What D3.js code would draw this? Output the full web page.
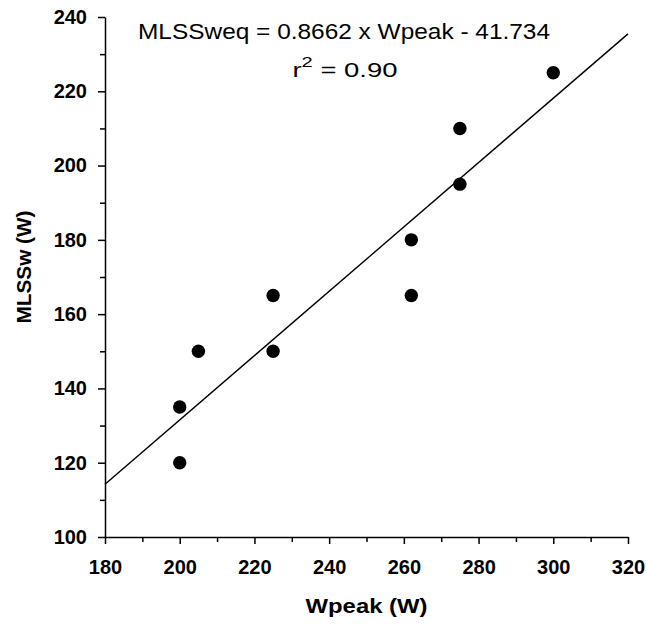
<!DOCTYPE html>
<html lang="en">
<head>
    <meta charset="UTF-8">
    <title>MLSSw vs Wpeak</title>
    <script src="https://d3js.org/d3.v7.min.js"></script>
    <style>
        body { margin: 0; background: #fff; }
        svg text { font-family: "Liberation Sans", Arial, sans-serif; fill: #000; }
    </style>
</head>
<body>
    <div id="chart"></div>
    <script>
        // data
        var wpeak = [200, 200, 205, 225, 225, 262, 262, 275, 275, 300];
        var mlssw = [120, 135, 150, 150, 165, 165, 180, 195, 210, 225];
        var slope = 0.8662;
        var intercept = -41.734;
        var xTicks = [180, 200, 220, 240, 260, 280, 300, 320];
        var yTicks = [100, 120, 140, 160, 180, 200, 220, 240];

        var width = 646, height = 626;
        var margin = {top: 17, right: 18, bottom: 89, left: 105};

        var svg = d3.select('#chart')
                    .append('svg')
                    .attr('width', width)
                    .attr('height', height);

        var x = d3.scaleLinear()
                  .domain([180, 320])
                  .range([margin.left, width - margin.right]);
        var y = d3.scaleLinear()
                  .domain([100, 240])
                  .range([height - margin.bottom, margin.top]);

        // minor ticks halfway between the labelled ones
        var xMinor = d3.range(190, 320, 20);
        var yMinor = d3.range(110, 240, 20);

        svg.append('g')
            .attr('transform', 'translate(0,' + y(100) + ')')
            .call(d3.axisBottom(x).tickValues(xMinor).tickSize(5).tickFormat(''))
            .call(function (g) { g.select('.domain').remove(); });

        svg.append('g')
            .attr('transform', 'translate(' + x(180) + ',0)')
            .call(d3.axisLeft(y).tickValues(yMinor).tickSize(5).tickFormat(''))
            .call(function (g) { g.select('.domain').remove(); });

        svg.append('g')
            .attr('transform', 'translate(0,' + y(100) + ')')
            .call(d3.axisBottom(x).tickValues(xTicks).tickSize(7).tickSizeOuter(0).tickPadding(16));

        svg.append('g')
            .attr('transform', 'translate(' + x(180) + ',0)')
            .call(d3.axisLeft(y).tickValues(yTicks).tickSize(7).tickSizeOuter(0).tickPadding(11));

        svg.selectAll('.tick line, .domain')
            .attr('stroke', '#000')
            .attr('stroke-width', 1.5);

        svg.selectAll('.tick text')
            .style('font-family', '"Liberation Sans", Arial, sans-serif')
            .style('font-size', '20px')
            .style('font-weight', 'bold')
            .attr('fill', '#000');

        // regression line across the whole x range
        var lineData = x.domain().map(function (v) { return [v, slope * v + intercept]; });
        svg.append('path')
            .datum(lineData)
            .attr('fill', 'none')
            .attr('stroke', '#000')
            .attr('stroke-width', 1.4)
            .attr('d', d3.line()
                .x(function (d) { return x(d[0]); })
                .y(function (d) { return y(d[1]); }));

        svg.selectAll('circle.pt')
            .data(d3.range(wpeak.length))
            .enter()
            .append('circle')
            .attr('class', 'pt')
            .attr('cx', function (i) { return x(wpeak[i]); })
            .attr('cy', function (i) { return y(mlssw[i]); })
            .attr('r', 6.7)
            .attr('fill', '#000');

        // equation text
        svg.append('text')
            .attr('x', 344)
            .attr('y', 39)
            .attr('text-anchor', 'middle')
            .attr('textLength', 412)
            .attr('lengthAdjust', 'spacingAndGlyphs')
            .style('font-size', '21.5px')
            .text('MLSSweq = 0.8662 x Wpeak - 41.734');

        var r2 = svg.append('text')
            .attr('x', 345)
            .attr('y', 77)
            .attr('text-anchor', 'middle')
            .attr('textLength', 105)
            .attr('lengthAdjust', 'spacingAndGlyphs')
            .style('font-size', '20.5px');
        r2.append('tspan').text('r');
        r2.append('tspan').attr('dy', -10).style('font-size', '15px').text('2');
        r2.append('tspan').attr('dy', 10).text(' = 0.90');

        // axis titles
        svg.append('text')
            .attr('x', x(250))
            .attr('y', 613)
            .attr('text-anchor', 'middle')
            .attr('textLength', 122)
            .attr('lengthAdjust', 'spacingAndGlyphs')
            .style('font-size', '21px')
            .style('font-weight', 'bold')
            .text('Wpeak (W)');

        svg.append('text')
            .attr('transform', 'translate(31,' + 267 + ') rotate(-90)')
            .attr('text-anchor', 'middle')
            .attr('textLength', 113)
            .attr('lengthAdjust', 'spacingAndGlyphs')
            .style('font-size', '21px')
            .style('font-weight', 'bold')
            .text('MLSSw (W)');
    </script>
</body>
</html>
